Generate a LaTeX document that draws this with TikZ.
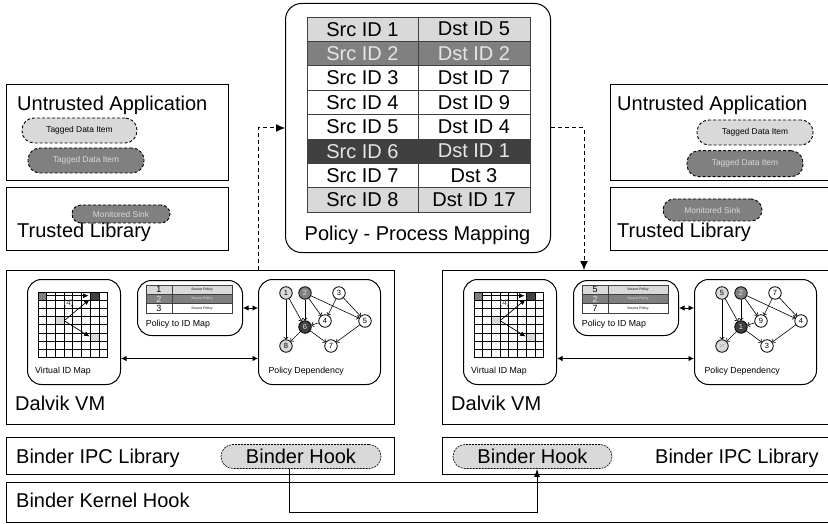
\documentclass[tikz,border=0pt]{standalone}
\usepackage{fontspec}
\setmainfont{Liberation Sans}
\usetikzlibrary{positioning,arrows.meta}

\definecolor{lgray}{HTML}{D9D9D9}
\definecolor{mgray}{HTML}{808080}
\definecolor{dgray}{HTML}{404040}
\definecolor{ltext}{HTML}{E6E6E6}

\begin{document}
\begin{tikzpicture}[x=1pt, y=-1pt, >={Latex[length=9pt,width=8pt]},
		box/.style={draw, line width=1pt, anchor=north west, inner sep=0pt},
		rbox/.style={box, rounded corners=14pt},
		bigtext/.style={font=\fontsize{20}{24}\selectfont, anchor=base west, inner sep=0pt},
		smalltext/.style={font=\fontsize{8.8}{10}\selectfont, anchor=base west, inner sep=0pt},
		pill/.style={draw, line width=0.9pt, dash pattern=on 3pt off 2pt, rounded corners=12pt, inner sep=0pt, minimum height=25pt, font=\fontsize{8.4}{10}\selectfont},
		hook/.style={draw, line width=0.6pt, dash pattern=on 2pt off 1pt, rounded corners=12pt, inner sep=0pt, fill=lgray, minimum height=24pt, font=\fontsize{20}{24}\selectfont},
		cell/.style={draw=dgray, line width=0.8pt, inner sep=0pt, minimum height=24.4pt, font=\fontsize{20}{24}\selectfont},
		pcell/.style={draw=dgray, line width=0.6pt, inner sep=0pt, minimum height=9.33pt},
		gnode/.style={circle, draw, line width=0.8pt, minimum size=12.5pt, inner sep=0pt, font=\fontsize{7.5}{9}\selectfont},
		gedge/.style={-{To[length=2.5pt,width=5pt]}, line width=0.6pt},
		gridarrow/.style={-{Latex[length=5.5pt,width=5pt]}, line width=0.7pt},
		both/.style={{Latex[length=5.5pt,width=5.5pt]}-{Latex[length=5.5pt,width=5.5pt]}, line width=0.8pt},
		link/.style={->, line width=1pt, dash pattern=on 4pt off 3pt}]
		\useasboundingbox (0,0) rectangle (828,524);
		\clip (0,0) rectangle (828,524);
		
		% left application side
		\node[box, minimum width=222pt, minimum height=96pt] (uaL) at (6,84) {};
		\node[bigtext] (uaLt) at (17,111) {Untrusted Application};
		\node[pill, fill=lgray, minimum width=115pt] (tagLa) at (79.5,130.5) {Tagged Data Item};
		\node[pill, fill=mgray, text=lgray, minimum width=116pt] (tagLb) at (86,160.5) {Tagged Data Item};
		\node[box, minimum width=222pt, minimum height=63pt] (tlL) at (6,187) {};
		\node[pill, fill=mgray, text=lgray, minimum width=98pt, minimum height=18pt, rounded corners=9pt] (sinkL) at (121,214) {Monitored Sink};
		\node[bigtext] (tlLt) at (17,237.5) {Trusted Library};
		
		% right application side
		\node[box, minimum width=230pt, minimum height=96pt] (uaR) at (610,84) {};
		\node[bigtext] (uaRt) at (617,111) {Untrusted Application};
		\node[pill, fill=lgray, minimum width=116pt] (tagRa) at (755,132.5) {Tagged Data Item};
		\node[pill, fill=mgray, text=lgray, minimum width=116pt, minimum height=26pt] (tagRb) at (745,163.7) {Tagged Data Item};
		\node[box, minimum width=230pt, minimum height=63pt] (tlR) at (610,187) {};
		\node[pill, fill=mgray, text=lgray, minimum width=99pt, minimum height=22pt, rounded corners=11pt] (sinkR) at (712.5,210) {Monitored Sink};
		\node[bigtext] (tlRt) at (617,237.5) {Trusted Library};
		
		% policy - process mapping
		\node[rbox, rounded corners=16pt, minimum width=265pt, minimum height=249pt] (pol) at (285,3) {};
		\foreach \i/\src/\dst/\f/\c in {1/Src ID 1/Dst ID 5/lgray/black, 2/Src ID 2/Dst ID 2/mgray/ltext, 3/Src ID 3/Dst ID 7/white/black, 4/Src ID 4/Dst ID 9/white/black, 5/Src ID 5/Dst ID 4/white/black, 6/Src ID 6/Dst ID 1/dgray/ltext, 7/Src ID 7/Dst 3/white/black, 8/Src ID 8/Dst ID 17/lgray/black}
		{
			\node[cell, minimum width=111pt, fill=\f, text=\c] (src\i) at (362.5,4.8+24.4*\i) {\src};
			\node[cell, minimum width=112pt, fill=\f, text=\c] (dst\i) at (474,4.8+24.4*\i) {\dst};
		}
		\node[bigtext, anchor=base] (polt) at (417.5,240.5) {Policy - Process Mapping};
		
		% dalvik vms
		\foreach \s/\dx/\w/\ra/\rb/\rc in {L/0/388/1/2/3, R/436/400/5/2/7}
		{
			\begin{scope}[xshift=\dx pt]
				\node[box, minimum width=\w pt, minimum height=154pt] (dv\s) at (6,270) {};
				\node[bigtext] (dvt\s) at (15,410.5) {Dalvik VM};
				
				\node[rbox, minimum width=93pt, minimum height=105pt] (vim\s) at (27,279) {};
				\fill[mgray] (38,292) rectangle ++(8.7,8.2);
				\fill[dgray] (90.2,292) rectangle ++(8.7,8.2);
				\fill[lgray] (55.4,316.6) rectangle ++(8.7,8.2);
				\fill[lgray] (90.2,333) rectangle ++(8.7,8.2);
				\foreach \k in {0,...,8}
				{
					\draw[line width=0.7pt] (38+8.7*\k,292) -- (38+8.7*\k,357.6);
					\draw[line width=0.7pt] (38,292+8.2*\k) -- (107.6,292+8.2*\k);
				}
				\draw[gridarrow] (46.7,295.7) -- (88.6,295.7);
				\draw[gridarrow] (64.1,320.7) -- (89.5,299.5);
				\draw[gridarrow] (64.1,320.7) -- (89.5,336.5);
				\node[font=\fontsize{8}{9}\selectfont, inner sep=0pt, text=dgray] at (68.5,303.5) {(4)};
				\node[smalltext] at (35,373) {Virtual ID Map};
				
				\node[rbox, minimum width=105pt, minimum height=55pt] (pim\s) at (137,280) {};
				\foreach \r/\lab/\f/\c in {1/\ra/lgray/black, 2/\rb/mgray/ltext, 3/\rc/white/black}
				{
					\node[pcell, minimum width=26pt, fill=\f, text=\c, font=\fontsize{9}{10}\selectfont] (pid\s\r) at (159,280.3+9.33*\r) {\lab};
					\node[pcell, minimum width=60pt, fill=\f, text=\c, font=\fontsize{3.5}{4}\selectfont] (psrc\s\r) at (202,280.3+9.33*\r) {Source Policy};
				}
				\node[smalltext] at (145.7,326) {Policy to ID Map};
				
				\node[rbox, minimum width=122pt, minimum height=105pt] (pdp\s) at (258,279) {};
				\node[smalltext] at (268.3,373) {Policy Dependency};
				
				\draw[both] (pim\s.east) -- (pim\s.east -| pdp\s.west);
				\draw[both] ([yshift=-26.5pt]vim\s.east) -- ([yshift=-26.5pt]pdp\s.west);
			\end{scope}
		}
		
		% policy dependency graphs
		\foreach \n/\x/\y/\a/\b/\f/\c in {1/286/293/1/5/lgray/black, 2/305/293/2/2/mgray/ltext, 3/339/293/3/7/white/black, 4/325/321/4/9/white/black, 5/365/321/5/4/white/black, 6/305/327/6/1/dgray/ltext, 7/331/346/7/3/white/black, 8/286/346/8/{\color{mgray}\fontsize{4}{5}\selectfont 17}/lgray/black}
		{
			\node[gnode, fill=\f, text=\c] (gL\n) at (\x,\y) {\a};
			\node[gnode, fill=\f, text=\c] (gR\n) at (\x+436,\y) {\b};
		}
		\foreach \s in {L,R}
			\foreach \a/\b in {1/8, 1/6, 2/6, 2/4, 2/5, 3/4, 3/5, 4/6, 5/7, 6/7, 6/8}
				\draw[gedge] (g\s\a) -- (g\s\b);
		
		% process to policy links
		\draw[link] (dvL.north -| pdpL.west) |- (pol.west);
		\draw[link] (pol.east) -| ([xshift=142pt]dvR.north west);
		
		% binder
		\node[box, minimum width=388pt, minimum height=37pt] (bipL) at (6,437) {};
		\node[bigtext] (bipLt) at (16,463.5) {Binder IPC Library};
		\node[hook, minimum width=160pt] (hookL) at (301,456.5) {Binder Hook};
		\node[box, minimum width=400pt, minimum height=37pt] (bipR) at (442,437) {};
		\node[hook, minimum width=159pt] (hookR) at (532.5,456.5) {Binder Hook};
		\node[bigtext] (bipRt) at (655,463.5) {Binder IPC Library};
		\node[box, minimum width=840pt, minimum height=40pt] (bkh) at (6,482) {};
		\node[bigtext] (bkht) at (16,507) {Binder Kernel Hook};
		\draw[-{Latex[length=8pt,width=6pt]}, line width=1pt] ([xshift=-12pt]hookL.south) -- ++(0,44) -| ([xshift=4.5pt]hookR.south);
	\end{tikzpicture}
\end{document}
